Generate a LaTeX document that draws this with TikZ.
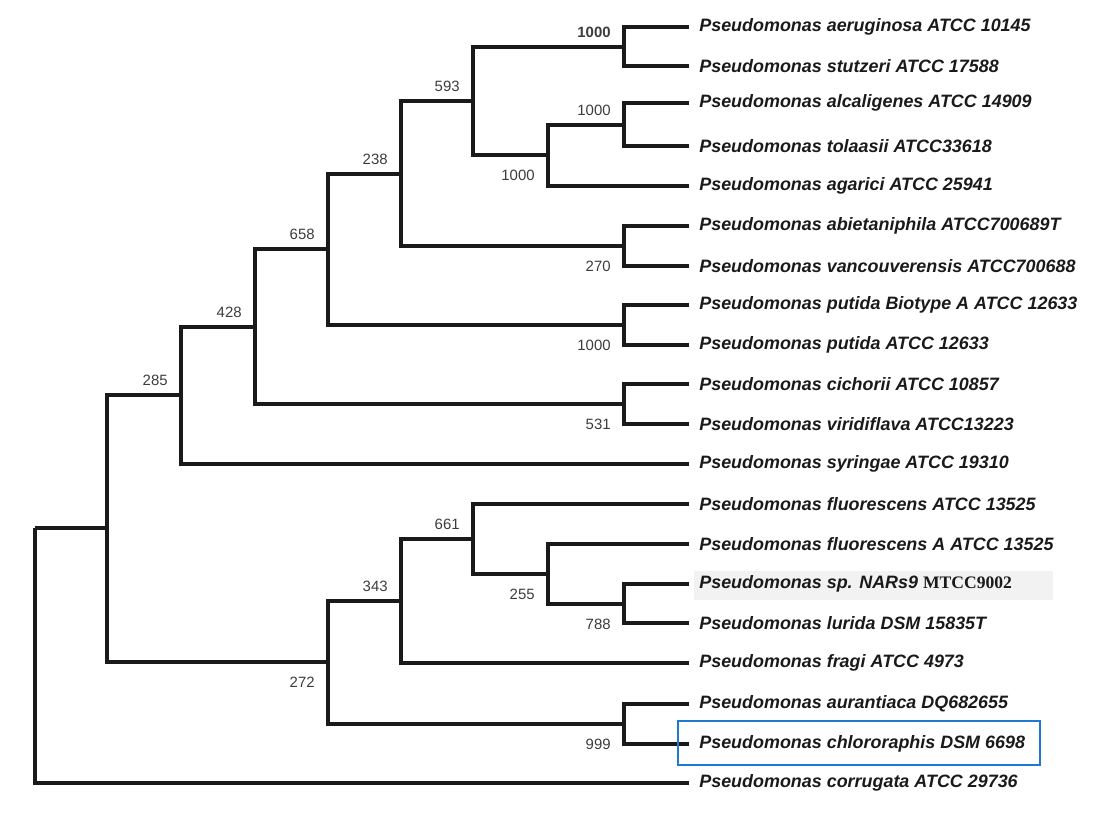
\documentclass[tikz,border=0pt]{standalone}
\usepackage{fontspec}
\setmainfont{Liberation Sans}
\newfontfamily\mtccfont{Liberation Serif}
\usepackage{xcolor}
\usepackage{tikz}
\usetikzlibrary{calc,positioning}
\definecolor{treeBlack}{HTML}{1A1A1A}
\definecolor{bootGray}{HTML}{3C3C3C}
\definecolor{boxBlue}{HTML}{1F78D1}
\definecolor{shadeGray}{HTML}{F2F2F2}

\begin{document}
\begin{tikzpicture}[
  x=0.02cm, y=-0.02cm,
  branch/.style={line width=1.9pt, draw=treeBlack, line join=miter},
  taxon/.style={anchor=west, inner xsep=0.2cm, inner ysep=1pt, font=\fontsize{10.2}{12}\selectfont\bfseries\itshape, text=treeBlack},
  boot/.style={inner sep=0pt, font=\fontsize{8.5}{10}\selectfont, text=bootGray},
  bootup/.style={boot, anchor=south east, xshift=-0.26cm, yshift=0.18cm},
  bootdown/.style={boot, anchor=north east, xshift=-0.26cm, yshift=-0.3cm},
  hilite/.style={draw=boxBlue, line width=1.4pt},
]
\useasboundingbox (0,0) rectangle (1100,813);

% Shaded strain name
\fill[shadeGray] (694,571) rectangle (1053,600);

% Leaves
\foreach \i/\yy/\txt in {
  1/27/{aeruginosa ATCC 10145},
  2/66/{stutzeri ATCC 17588},
  3/103/{alcaligenes ATCC 14909},
  4/146/{tolaasii ATCC33618},
  5/186/{agarici ATCC 25941},
  6/226/{abietaniphila ATCC700689T},
  7/266/{vancouverensis ATCC700688},
  8/305/{putida Biotype A ATCC 12633},
  9/345/{putida ATCC 12633},
  10/384/{cichorii ATCC 10857},
  11/424/{viridiflava ATCC13223},
  12/464/{syringae ATCC 19310},
  13/504/{fluorescens ATCC 13525},
  14/544/{fluorescens A ATCC 13525},
  15/584/{sp. NARs9 {\mtccfont\upshape\bfseries\fontsize{10}{12}\selectfont MTCC9002}},
  16/623/{lurida DSM 15835T},
  17/663/{fragi ATCC 4973},
  18/704/{aurantiaca DQ682655},
  19/744/{chlororaphis DSM 6698},
  20/783/{corrugata ATCC 29736}} {
  \node[taxon] (t\i) at (689,\yy) {Pseudomonas \txt};
}

% Internal nodes
\coordinate (n1) at (624,47);
\coordinate (n2) at (624,125);
\coordinate (n3) at (548,155);
\coordinate (n4) at (473,101);
\coordinate (n5) at (401,174);
\coordinate (n6) at (624,246);
\coordinate (n7) at (328,249);
\coordinate (n8) at (624,325);
\coordinate (n9) at (255,327);
\coordinate (n10) at (624,404);
\coordinate (n11) at (181,395);
\coordinate (n12) at (473,539);
\coordinate (n13) at (548,574);
\coordinate (n14) at (624,604);
\coordinate (n15) at (401,601);
\coordinate (n16) at (624,724);
\coordinate (n17) at (328,662);
\coordinate (n18) at (107,528);
\coordinate (root) at (35,528);

% Branches
\foreach \p/\c in {n1/t1, n1/t2, n2/t3, n2/t4, n3/n2, n3/t5, n4/n1, n4/n3,
  n5/n4, n5/n6, n6/t6, n6/t7, n7/n5, n7/n8, n8/t8, n8/t9, n9/n7, n9/n10,
  n10/t10, n10/t11, n11/n9, n11/t12, n12/t13, n12/n13, n13/t14, n13/n14,
  n14/t15, n14/t16, n15/n12, n15/t17, n16/t18, n16/t19, n17/n15, n17/n16,
  n18/n11, n18/n17, root/n18, root/t20}
  \draw[branch] (\p) |- (\c);

% Bootstrap values
\node[bootup] (b1) at (n1) {\textbf{1000}};
\node[bootup] (b2) at (n2) {1000};
\node[bootdown] (b3) at (n3) {1000};
\node[bootup] (b4) at (n4) {593};
\node[bootup] (b5) at (n5) {238};
\node[bootdown] (b6) at (n6) {270};
\node[bootup] (b7) at (n7) {658};
\node[bootdown] (b8) at (n8) {1000};
\node[bootup] (b9) at (n9) {428};
\node[bootdown] (b10) at (n10) {531};
\node[bootup] (b11) at (n11) {285};
\node[bootup] (b12) at (n12) {661};
\node[bootdown] (b13) at (n13) {255};
\node[bootdown] (b14) at (n14) {788};
\node[bootup] (b15) at (n15) {343};
\node[bootdown] (b16) at (n16) {999};
\node[bootdown] (b17) at (n17) {272};

% Highlighted strain
\draw[hilite] (678,721) rectangle (1040,765);
\end{tikzpicture}
\end{document}
